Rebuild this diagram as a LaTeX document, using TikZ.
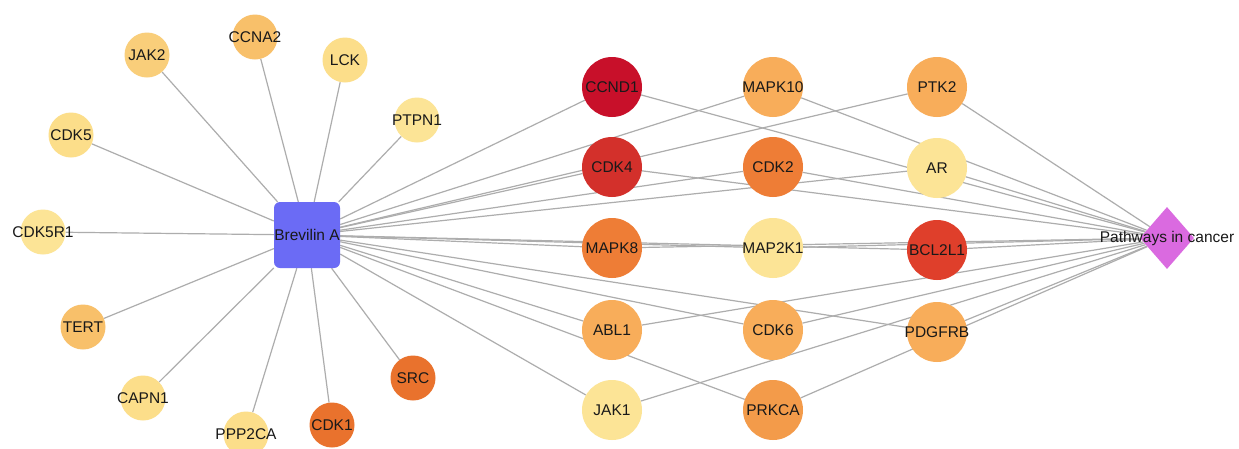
\documentclass[tikz,border=0pt]{standalone}
\usepackage{fontspec}
\setmainfont{Liberation Sans}
\usepackage{tikz}
\usetikzlibrary{shapes.geometric,backgrounds}
\definecolor{edgegray}{HTML}{ADADAD}
\definecolor{drug}{HTML}{6B6BF5}
\definecolor{pathway}{HTML}{DA6AE0}
\definecolor{degA}{HTML}{C8102A}
\definecolor{degB}{HTML}{D3302B}
\definecolor{degC}{HTML}{DF3F2B}
\definecolor{degD}{HTML}{EE7D36}
\definecolor{degE}{HTML}{E9722D}
\definecolor{degF}{HTML}{F39B4A}
\definecolor{degG}{HTML}{F8AD5A}
\definecolor{degH}{HTML}{F8C06A}
\definecolor{degI}{HTML}{F9CE7A}
\definecolor{degJ}{HTML}{FCDE8A}
\definecolor{degK}{HTML}{FCE496}
\tikzset{
  link/.style={draw=edgegray, line width=1.2pt},
  gtext/.style={text=black!90, font=\fontsize{15.5}{16}\selectfont, inner sep=0pt},
  gene/.style={circle, draw=none, inner sep=0pt},
  smallgene/.style={gene, minimum size=45pt},
  biggene/.style={gene, minimum size=60pt},
  drugbox/.style={rectangle, rounded corners=6pt, fill=drug, minimum size=66pt, inner sep=0pt},
  pathbox/.style={diamond, fill=pathway, minimum width=54pt, minimum height=62pt, inner sep=0pt}
}

\begin{document}
\begin{tikzpicture}[x=1pt, y=-1pt]
  \useasboundingbox (0,0) rectangle (1239,448);

  % hubs
  \node[drugbox, label={[gtext]center:Brevilin A}] (brev) at (307,235) {};
  \node[pathbox, label={[gtext]center:Pathways in cancer}] (path) at (1167,238) {};

  % targets of Brevilin A only
  \foreach \n/\x/\y/\c/\t in {
      jak2/147/55/degI/JAK2, ccna2/255/37/degH/CCNA2, lck/345/60/degJ/LCK,
      ptpn1/417/120/degK/PTPN1, cdk5/71/135/degJ/CDK5, cdk5r1/43/232/degK/CDK5R1,
      tert/83/327/degH/TERT, capn1/143/398/degJ/CAPN1, ppp2ca/246/434/degJ/PPP2CA,
      cdk1/332/425/degE/CDK1, src/413/378/degE/SRC}
    \node[smallgene, fill=\c, label={[gtext]center:\t}] (\n) at (\x,\y) {};

  % targets shared with the pathway
  \foreach \n/\x/\y/\c/\t in {
      ccnd1/612/87/degA/CCND1, cdk4/612/167/degB/CDK4, mapk8/612/248/degD/MAPK8,
      abl1/612/330/degG/ABL1, jak1/612/410/degK/JAK1,
      mapk10/773/87/degG/MAPK10, cdk2/773/167/degD/CDK2, map2k1/773/248/degK/MAP2K1,
      cdk6/773/330/degG/CDK6, prkca/773/410/degF/PRKCA,
      ptk2/937/87/degG/PTK2, ar/937/168/degK/AR, bcl2l1/937/250/degC/BCL2L1,
      pdgfrb/937/332/degG/PDGFRB}
    \node[biggene, fill=\c, label={[gtext]center:\t}] (\n) at (\x,\y) {};

  \begin{scope}[on background layer]
    \fill[white] (0,0) rectangle (1239,448);
    \foreach \n in {jak2,ccna2,lck,ptpn1,cdk5,cdk5r1,tert,capn1,ppp2ca,cdk1,src}
      \draw[link] (brev) -- (\n);
    \foreach \n in {ccnd1,cdk4,mapk8,abl1,jak1,mapk10,cdk2,map2k1,cdk6,prkca,ptk2,ar,bcl2l1,pdgfrb}{
      \draw[link] (brev) -- (\n);
      \draw[link] (\n) -- (path);
    }
  \end{scope}
\end{tikzpicture}
\end{document}
